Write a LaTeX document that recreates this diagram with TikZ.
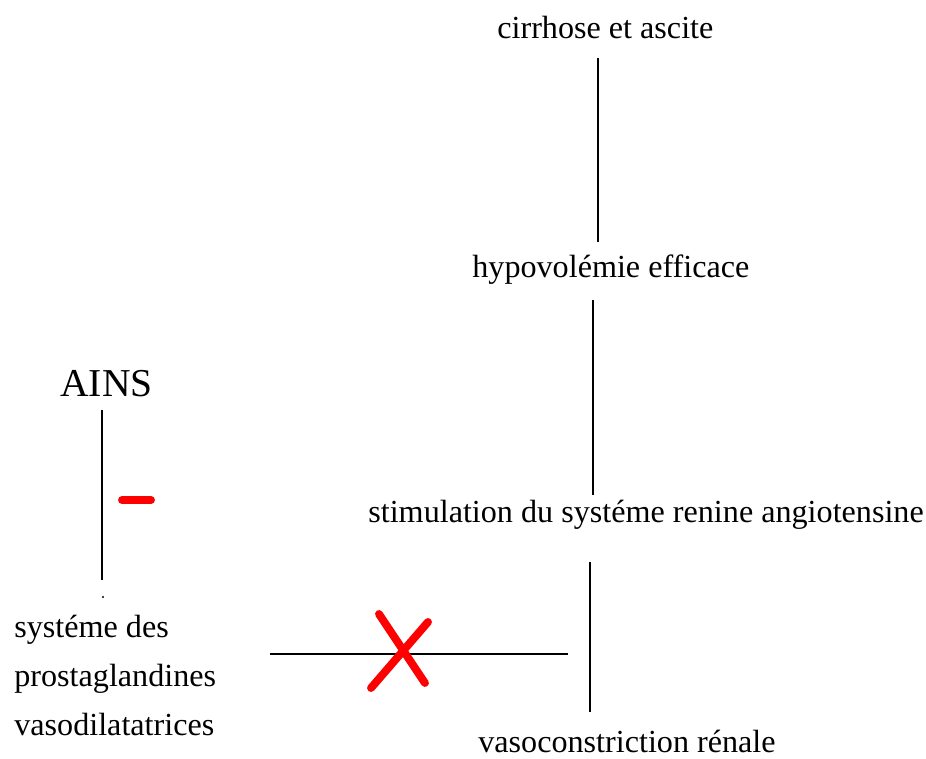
\documentclass[tikz,border=0pt]{standalone}
\usepackage{fontspec}
\setmainfont{Liberation Serif}
\tikzset{
  lbl/.style={inner sep=0pt,anchor=base west,font=\fontsize{18.3pt}{27.8pt}\selectfont},
  lien/.style={black,line width=1.1pt},
  rouge/.style={red,line width=4.5pt,line cap=round}
}
\begin{document}
\begin{tikzpicture}[x=0.02cm,y=-0.02cm]
\useasboundingbox (0,0) rectangle (926,758);
% chaine principale
\node[lbl] (cirrhose) at (497,38) {cirrhose et ascite};
\node[lbl] (hypo) at (472,277) {hypovolémie efficace};
\node[lbl] (stim) at (368,522) {stimulation du systéme renine angiotensine};
\node[lbl] (vaso) at (478,752) {vasoconstriction rénale};
% branche AINS
\node[lbl,font=\fontsize{22.5pt}{27pt}\selectfont] (ains) at (60,396) {AINS};
\node[lbl,align=left,anchor=north west] (prosta) at (14,615) {systéme des\\prostaglandines\\vasodilatatrices};
\coordinate (c1) at (598,0);
\coordinate (c2) at (593,0);
\coordinate (c3) at (590,0);
\coordinate (c4) at (102,0);
\draw[lien] (c1 |- 0,58) -- (c1 |- 0,242);
\draw[lien] (c2 |- 0,300) -- (c2 |- 0,495);
\draw[lien] (c3 |- 0,562) -- (c3 |- 0,712);
\draw[lien] (c4 |- 0,410) -- (c4 |- 0,580);
\fill (103,597) circle (1.2);
\coordinate (h1) at (270,654);
\coordinate (h2) at (568,654);
\draw[lien] (h1) -- (h2);
% signes rouges
\draw[rouge] (122,500) -- (151,500);
\draw[rouge] (379,614) -- (425,683);
\draw[rouge] (428,622) -- (371,688);
\end{tikzpicture}
\end{document}
